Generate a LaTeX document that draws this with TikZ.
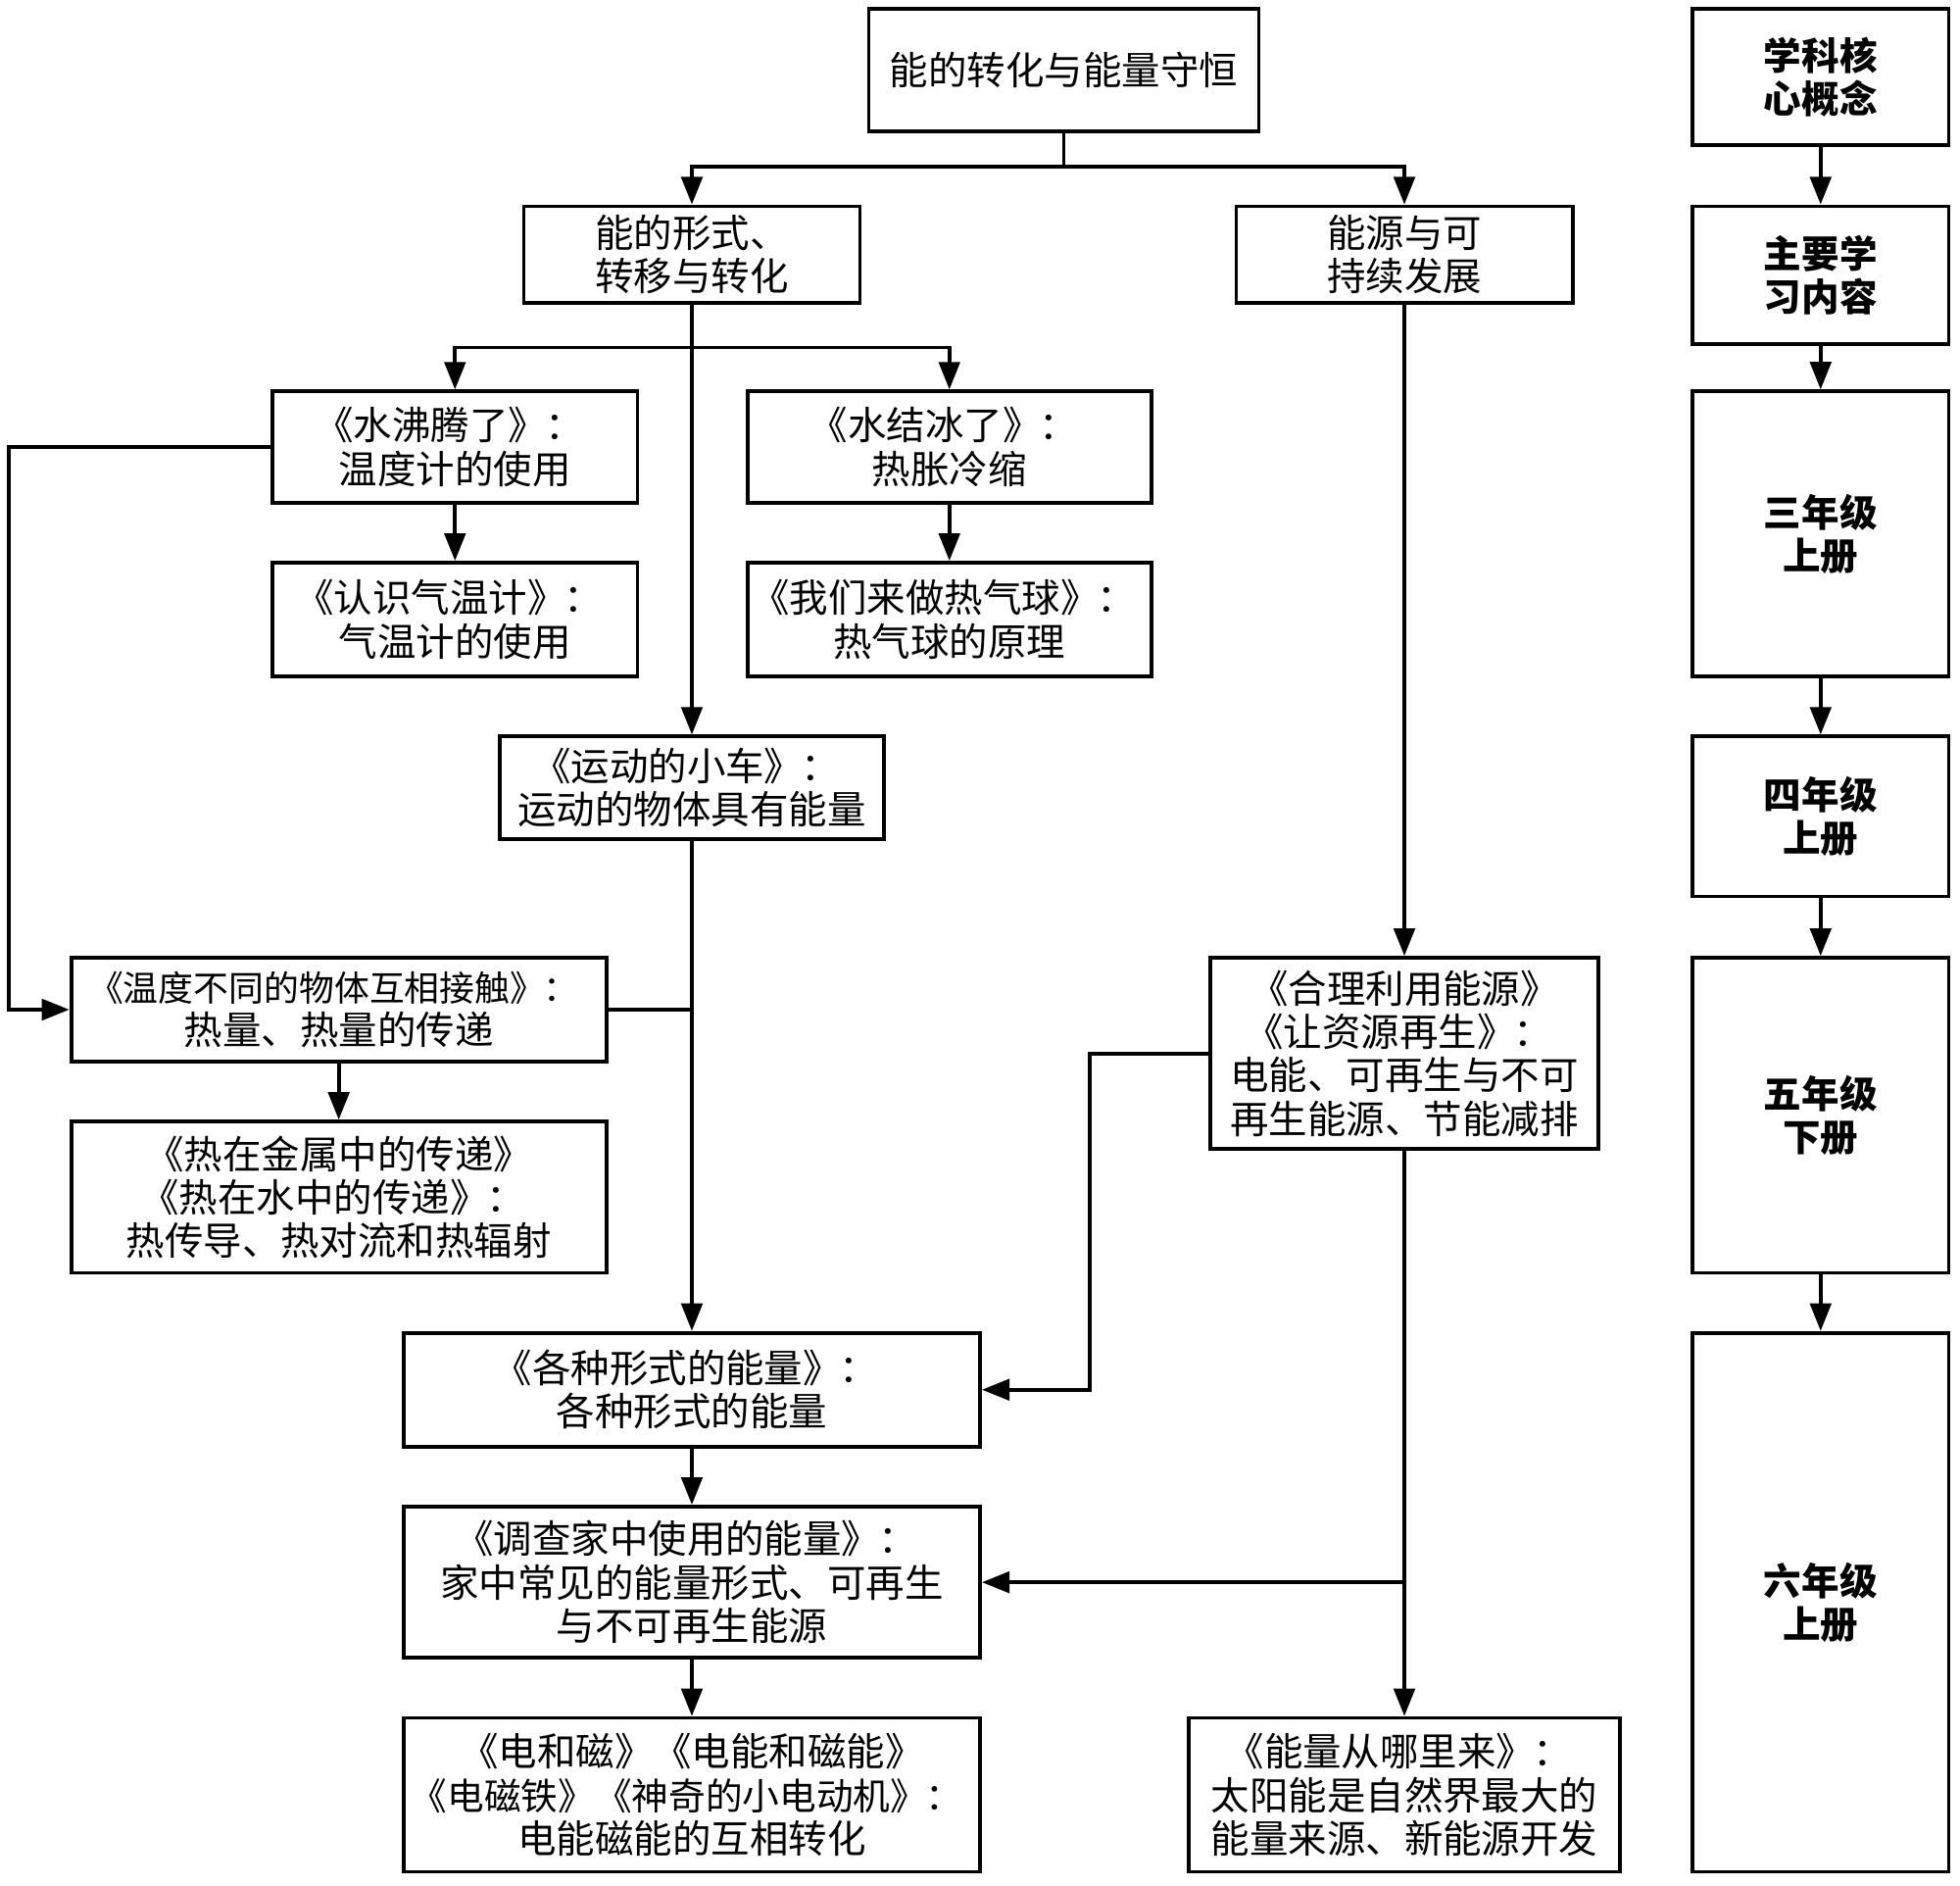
\documentclass[tikz,border=0pt]{standalone}
\usepackage{fontspec}
\newfontfamily\cjk{Noto Sans CJK SC}
\usetikzlibrary{arrows.meta}
\newcommand\lbk{\hbox to 0.7em{\hss《}}
\newcommand\rbk{\hbox to 0.7em{》\hss}}
\newcommand\colonmk{\kern0.25em：}
\newcommand\smallline[1]{{\fontsize{20}{24.7}\selectfont #1}}
\newcommand\midline[1]{{\fontsize{21}{24.7}\selectfont #1}}
\begin{document}
\begin{tikzpicture}[x=0.025cm,y=-0.025cm,
  every node/.style={font=\cjk\fontsize{22}{24.7}\selectfont},
  box/.style={draw,line width=2.1pt,inner sep=0pt,align=center},
  rbox/.style={box,font=\cjk\bfseries\fontsize{21.5}{24.3}\selectfont,minimum width=5.125cm},
  conn/.style={line width=2.1pt},
  arr/.style={conn,-{Triangle[length=0.55cm,width=0.42cm]}}]
\useasboundingbox (0,0) rectangle (1568,1508.4);
% main boxes
\node[box,minimum width=7.8cm,minimum height=2.45cm] (T) at (851,56) {能的转化与能量守恒};
\node[box,minimum width=6.725cm,minimum height=1.925cm] (A) at (553.5,203.5) {能的形式、\\转移与转化};
\node[box,minimum width=6.725cm,minimum height=1.925cm] (B) at (1123.5,203.5) {能源与可\\持续发展};
\node[box,minimum width=7.3cm,minimum height=2.225cm] (C) at (364,357.5) {\lbk 水沸腾了\rbk\colonmk\\温度计的使用};
\node[box,minimum width=8.075cm,minimum height=2.225cm] (D) at (759.5,357.5) {\lbk 水结冰了\rbk\colonmk\\热胀冷缩};
\node[box,minimum width=7.3cm,minimum height=2.275cm] (E) at (364,495.5) {\lbk 认识气温计\rbk\colonmk\\气温计的使用};
\node[box,minimum width=8.075cm,minimum height=2.275cm] (F) at (759.5,495.5) {\lbk 我们来做热气球\rbk\colonmk\\热气球的原理};
\node[box,minimum width=7.675cm,minimum height=2.05cm] (G) at (553.5,630) {\lbk 运动的小车\rbk\colonmk\\运动的物体具有能量};
\node[box,minimum width=10.7cm,minimum height=2.075cm] (H) at (271,807.5) {\smallline{\lbk 温度不同的物体互相接触\rbk\colonmk}\\热量、热量的传递};
\node[box,minimum width=10.7cm,minimum height=3.025cm] (I) at (271,957.5) {\lbk 热在金属中的传递\rbk\\\lbk 热在水中的传递\rbk\colonmk\\热传导、热对流和热辐射};
\node[box,minimum width=11.525cm,minimum height=2.275cm] (J) at (553.5,1111.5) {\lbk 各种形式的能量\rbk\colonmk\\各种形式的能量};
\node[box,minimum width=11.525cm,minimum height=3.025cm] (K) at (553.5,1265.5) {\lbk 调查家中使用的能量\rbk\colonmk\\家中常见的能量形式、可再生\\与不可再生能源};
\node[box,minimum width=11.525cm,minimum height=3.075cm] (L) at (553.5,1435.5) {\lbk 电和磁》《电能和磁能\rbk\\\midline{\lbk 电磁铁》《神奇的小电动机\rbk\colonmk}\\电能磁能的互相转化};
\node[box,minimum width=7.75cm,minimum height=3.825cm] (M) at (1123.5,842.5) {\lbk 合理利用能源\rbk\\\lbk 让资源再生\rbk\colonmk\\电能、可再生与不可\\再生能源、节能减排};
\node[box,minimum width=8.625cm,minimum height=3.075cm] (N) at (1123.5,1435.5) {\lbk 能量从哪里来\rbk\colonmk\\太阳能是自然界最大的\\能量来源、新能源开发};
% right column
\node[rbox,minimum height=2.725cm] (R1) at (1456.5,61.5) {学科核\\心概念};
\node[rbox,minimum height=2.75cm] (R2) at (1456.5,220) {主要学\\习内容};
\node[rbox,minimum height=5.7cm] (R3) at (1456.5,427) {三年级\\上册};
\node[rbox,minimum height=3.2cm] (R4) at (1456.5,653) {四年级\\上册};
\node[rbox,minimum height=6.3cm] (R5) at (1456.5,892) {五年级\\下册};
\node[rbox,minimum height=10.775cm] (R6) at (1456.5,1281.5) {六年级\\上册};
% coordinates
\coordinate (t1) at (851,133);
\coordinate (a1) at (553.5,278);
\coordinate (c1) at (7,357.5);
\coordinate (m1) at (872,842.5);
% connectors
\draw[conn] (T.south) -- (t1);
\draw[arr] (t1) -| (A.north);
\draw[arr] (t1) -| (B.north);
\draw[arr] (a1) -| (C.north);
\draw[arr] (a1) -| (D.north);
\draw[arr] (A.south) -- (G.north);
\draw[arr] (C.south) -- (E.north);
\draw[arr] (D.south) -- (F.north);
\draw[arr] (C.west) -- (c1) |- (H.west);
\draw[conn] (H.east) -- (H.east -| G.south);
\draw[arr] (G.south) -- (J.north);
\draw[arr] (H.south) -- (I.north);
\draw[arr] (J.south) -- (K.north);
\draw[arr] (K.south) -- (L.north);
\draw[arr] (B.south) -- (M.north);
\draw[arr] (M.west) -- (m1) |- (J.east);
\draw[arr] (M.south) -- (N.north);
\draw[arr] (M.south |- K.east) -- (K.east);
\draw[arr] (R1.south) -- (R2.north);
\draw[arr] (R2.south) -- (R3.north);
\draw[arr] (R3.south) -- (R4.north);
\draw[arr] (R4.south) -- (R5.north);
\draw[arr] (R5.south) -- (R6.north);
\end{tikzpicture}
\end{document}
